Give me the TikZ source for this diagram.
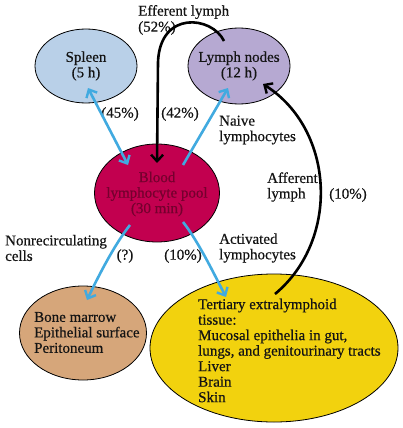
\documentclass[tikz,border=0pt]{standalone}
\usepackage{fontspec}
\setmainfont{Liberation Serif}[FakeBold=0.5]
\usetikzlibrary{shapes.geometric,arrows.meta,calc}
\definecolor{spleenc}{HTML}{B9D0E8}
\definecolor{lymphc}{HTML}{B6A9D2}
\definecolor{bloodc}{HTML}{C2004F}
\definecolor{bloodtxt}{HTML}{75002E}
\definecolor{bonec}{HTML}{D6A67A}
\definecolor{tertc}{HTML}{F2D20E}
\definecolor{bluec}{HTML}{41AAE0}
\definecolor{txtc}{HTML}{141414}
\begin{document}
\begin{tikzpicture}[x=1pt,y=-1pt,
  blob/.style={ellipse,draw=black,line width=0.8pt,inner sep=0pt},
  lbl/.style={font=\fontsize{15}{15.5}\selectfont,text=txtc,inner sep=0pt},
  bluearr/.style={draw=bluec,line width=2.6pt,-{Straight Barb[length=6.5pt,width=12pt,line width=2.4pt]}},
  blackarr/.style={draw=black,line width=2.6pt,-{Straight Barb[length=6.5pt,width=12pt,line width=2.4pt]}}]
\useasboundingbox (0,0) rectangle (402,428);
\fill[white] (0,0) rectangle (402,428);
% ellipses
\node[blob,fill=spleenc,minimum width=102pt,minimum height=74pt] (spleen) at (86,66) {};
\node[blob,fill=lymphc,minimum width=102pt,minimum height=76pt] (lymph) at (239,66) {};
\node[blob,fill=bloodc,minimum width=125pt,minimum height=98pt] (blood) at (157,193) {};
\node[blob,fill=bonec,minimum width=127pt,minimum height=94pt] (bone) at (83,333) {};
\node[blob,fill=tertc,minimum width=248pt,minimum height=148pt] (tert) at (274,348) {};
% texts in ellipses
\node[lbl,align=center] (spleent) at (86,66) {Spleen\\(5 h)};
\node[lbl,align=center] (lympht) at (239,66) {Lymph nodes\\(12 h)};
\node[lbl,align=center,text=bloodtxt] (bloodt) at (157,194) {Blood\\lymphocyte pool\\(30 min)};
\node[lbl,align=left,anchor=west] (bonet) at (34,332.5) {Bone marrow\\Epithelial surface\\Peritoneum};
\node[lbl,align=left,anchor=west] (tertt) at (198,350.5) {Tertiary extralymphoid\\tissue:\\Mucosal epithelia in gut,\\lungs, and genitourinary tracts\\Liver\\Brain\\Skin};
% free labels
\node[lbl,anchor=west] (eff) at (138,12) {Efferent lymph};
\node[lbl,anchor=west] (p52) at (138,28) {(52\%)};
\node[lbl] (p45) at (120,114) {(45\%)};
\node[lbl] (p42) at (180,114) {(42\%)};
\node[lbl,align=left,anchor=west] (naive) at (219,130) {Naive\\lymphocytes};
\node[lbl,align=left,anchor=west] (aff) at (267,187) {Afferent\\lymph};
\node[lbl] (p10a) at (348,195) {(10\%)};
\node[lbl,align=left,anchor=west] (nonrec) at (5,248) {Nonrecirculating\\cells};
\node[lbl] (pq) at (125,256) {(?)};
\node[lbl] (p10b) at (183,256) {(10\%)};
\node[lbl,align=left,anchor=west] (act) at (219,248) {Activated\\lymphocytes};
% blue arrows
\draw[bluearr,{Straight Barb[length=6.5pt,width=12pt,line width=2.4pt]}-{Straight Barb[length=6.5pt,width=12pt,line width=2.4pt]}]
  ($(spleen.center)+(2,22)$) -- ($(blood.center)+(-29,-28)$);
\draw[bluearr] ($(blood.center)+(26,-28)$) -- ($(lymph.center)+(-11,22)$);
\draw[bluearr] ($(blood.center)+(-27,32)$) .. controls ($(blood.center)+(-43,52)$) and ($(bone.center)+(14,-54)$) .. ($(bone.center)+(4,-33)$);
\draw[bluearr] ($(blood.center)+(26,29)$) .. controls ($(blood.center)+(42,49)$) and ($(tert.center)+(-57,-68)$) .. ($(tert.center)+(-48,-51)$);
% black arrows
\draw[blackarr] ($(lymph.center)+(-15,-25)$) .. controls ($(lymph.center)+(-27,-50)$) and ($(blood.center)+(3,-183)$) .. ($(blood.center)+(1,-131)$) -- ($(blood.center)+(0,-30)$);
\draw[blackarr] ($(tert.center)+(1,-54)$) .. controls ($(tert.center)+(66,-108)$) and ($(lymph.center)+(96,64)$) .. ($(lymph.center)+(24,18)$);
\end{tikzpicture}
\end{document}
